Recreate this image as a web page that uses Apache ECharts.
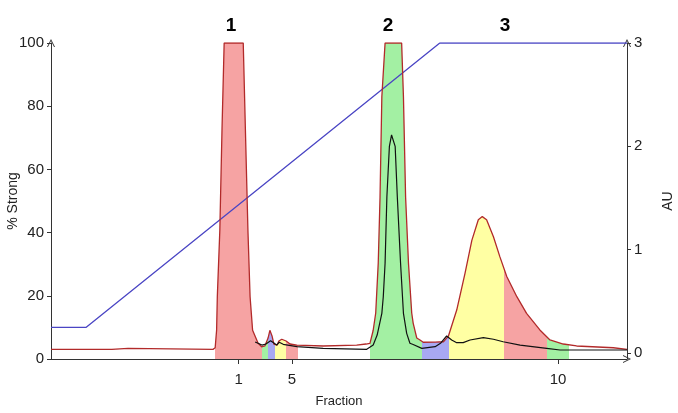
<!DOCTYPE html>
<html>
<head>
<meta charset="utf-8">
<script src="https://cdn.jsdelivr.net/npm/echarts@6/dist/echarts.min.js"></script>
<style>
  html, body { margin: 0; padding: 0; background: #fff; }
  #chart { width: 678px; height: 413px; }
</style>
</head>
<body>
<div id="chart"></div>
<script>
// ---- data (x in mL-like volume units, AU for absorbance, % for gradient) ----
const uvX = [0, 0.25, 0.28, 0.31, 1.69, 1.72, 2.14, 2.17, 4.5, 4.56, 4.6, 4.62, 4.69, 4.75, 4.81, 5.34, 5.40, 5.47, 5.53, 5.60, 5.75, 5.85, 5.94, 6.03, 6.08, 6.14, 6.19, 6.28, 6.33, 6.41, 6.53, 6.64, 6.83, 7.56, 8.49, 8.75, 8.86, 8.95, 9.02, 9.09, 9.14, 9.19, 9.28, 9.74, 9.79, 9.85, 9.93, 10.02, 10.06, 10.16, 10.25, 10.34, 10.67, 10.9, 11.04, 11.27, 11.5, 11.69, 11.87, 11.98, 12.1, 12.29, 12.47, 12.66, 12.94, 13.21, 13.58, 13.86, 14.23, 14.6, 15.62, 16];
const uvAU = [0.035, 0.035, 0.05, 0.035, 0.035, 0.045, 0.045, 0.035, 0.035, 0.05, 0.22, 0.545, 1.19, 2.16, 3.0, 3.0, 2.16, 1.19, 0.545, 0.22, 0.097, 0.06, 0.068, 0.145, 0.22, 0.165, 0.087, 0.077, 0.116, 0.133, 0.116, 0.087, 0.077, 0.068, 0.077, 0.087, 0.094, 0.22, 0.387, 0.87, 1.51, 2.48, 3.0, 3.0, 2.48, 1.51, 0.87, 0.387, 0.29, 0.145, 0.126, 0.104, 0.106, 0.109, 0.165, 0.416, 0.77, 1.09, 1.29, 1.32, 1.29, 1.125, 0.93, 0.74, 0.545, 0.384, 0.223, 0.126, 0.087, 0.068, 0.051, 0.036];

const sigX = [5.67, 5.86, 5.97, 6.1, 6.27, 6.34, 6.45, 6.83, 7.56, 8.77, 8.95, 9.06, 9.19, 9.23, 9.28, 9.33, 9.4, 9.46, 9.56, 9.62, 9.71, 9.79, 9.88, 9.97, 10.06, 10.3, 10.67, 10.83, 10.99, 11.03, 11.13, 11.27, 11.45, 11.64, 12.01, 12.29, 12.56, 13.03, 13.77, 14.14, 15.71, 16];
const sigAU = [0.106, 0.077, 0.087, 0.119, 0.077, 0.104, 0.084, 0.061, 0.045, 0.036, 0.077, 0.174, 0.384, 0.545, 0.868, 1.51, 2.0, 2.11, 2.0, 1.51, 0.868, 0.384, 0.19, 0.094, 0.082, 0.045, 0.061, 0.097, 0.165, 0.174, 0.126, 0.1, 0.1, 0.126, 0.148, 0.133, 0.109, 0.077, 0.045, 0.029, 0.029, 0.029];

const gradX = [0, 0.97, 10.8, 16];
const gradPct = [10, 10, 100, 100];

const fracStart = [4.56, 5.86, 6.03, 6.22, 6.53, 8.86, 10.31, 11.06, 12.58, 13.78];
const fracEnd   = [5.86, 6.03, 6.22, 6.53, 6.85, 10.31, 11.06, 12.58, 13.78, 14.39];
const fracColors = ['#f6a3a3', '#a3f0a3', '#a8a8f2', '#ffffa3'];
const fracLabelNums = [1, 5, 10];

const peakNames = ['1', '2', '3'];
const peakNameX = [5.0, 9.36, 12.61];

const rightTicks = [0, 1, 2, 3];

// ---- derived ----
const uvData = uvX.map((x, i) => [x, uvAU[i]]);
const sigData = sigX.map((x, i) => [x, sigAU[i]]);
const gradData = gradX.map((x, i) => [x, gradPct[i]]);
const fracCenters = fracLabelNums.map(n => (fracStart[n - 1] + fracEnd[n - 1]) / 2);
const pieces = fracStart.map((s, i) => ({ gte: s, lt: fracEnd[i], color: fracColors[i % 4] }));

const arrow = 'path://M0,10 L5,0 L10,10 L8.8,10 L5,2.4 L1.2,10 Z';
const FONT = 'Liberation Sans, Arial, sans-serif';

const chart = echarts.init(document.getElementById('chart'), null, { renderer: 'canvas' });
chart.setOption({
  animation: false,
  backgroundColor: '#ffffff',
  grid: { left: 51, right: 51, top: 43, bottom: 54, containLabel: false, outerBoundsMode: 'none' },
  xAxis: {
    type: 'value', min: 0, max: 16,
    name: 'Fraction', nameLocation: 'middle', nameGap: 36,
    nameTextStyle: { fontFamily: FONT, fontSize: 13, color: '#222' },
    axisLine: { show: true, symbol: ['none', arrow], symbolSize: [8, 10], lineStyle: { color: '#333', width: 1 } },
    axisTick: { show: true, length: 5, customValues: fracCenters, lineStyle: { color: '#333' } },
    axisLabel: {
      customValues: fracCenters, margin: 13,
      fontFamily: FONT, fontSize: 15, color: '#222',
      formatter: function (v) {
        let best = 0;
        fracCenters.forEach((c, i) => { if (Math.abs(c - v) < Math.abs(fracCenters[best] - v)) best = i; });
        return String(fracLabelNums[best]);
      }
    },
    splitLine: { show: false }
  },
  yAxis: [
    {
      type: 'value', min: 0, max: 100, interval: 20, position: 'left',
      name: '% Strong', nameLocation: 'middle', nameGap: 31, nameMoveOverlap: false,
      nameTextStyle: { fontFamily: FONT, fontSize: 14, color: '#222' },
      axisLine: { show: true, symbol: ['none', arrow], symbolSize: [8, 10], lineStyle: { color: '#333', width: 1 } },
      axisTick: { show: true, length: 4, lineStyle: { color: '#333' } },
      axisLabel: { margin: 7, fontFamily: FONT, fontSize: 15, color: '#222' },
      splitLine: { show: false }
    },
    {
      type: 'value', min: -0.058, max: 3, position: 'right',
      name: 'AU', nameLocation: 'middle', nameGap: 34, nameMoveOverlap: false,
      nameTextStyle: { fontFamily: FONT, fontSize: 14, color: '#222' },
      axisLine: { show: true, symbol: ['none', arrow], symbolSize: [8, 10], lineStyle: { color: '#333', width: 1 } },
      axisTick: { show: true, length: 4, customValues: rightTicks, lineStyle: { color: '#333' } },
      axisLabel: { customValues: rightTicks, margin: 7, fontFamily: FONT, fontSize: 15, color: '#222' },
      splitLine: { show: false }
    }
  ],
  visualMap: {
    type: 'piecewise', show: false, dimension: 0, seriesIndex: 0,
    pieces: pieces,
    outOfRange: { color: 'rgba(255,255,255,0)' }
  },
  series: [
    {
      name: 'fractions', type: 'line', yAxisIndex: 1, data: uvData,
      showSymbol: false, silent: true,
      lineStyle: { width: 0, opacity: 0 },
      areaStyle: { opacity: 1, origin: 'start' },
      z: 1
    },
    {
      name: 'gradient', type: 'line', yAxisIndex: 0, data: gradData,
      showSymbol: false, lineStyle: { color: '#4a45c4', width: 1.3 }, z: 3
    },
    {
      name: 'UV', type: 'line', yAxisIndex: 1, data: uvData,
      showSymbol: false, lineStyle: { color: '#b22a2a', width: 1.3 }, z: 4
    },
    {
      name: 'signal', type: 'line', yAxisIndex: 1, data: sigData,
      showSymbol: false, lineStyle: { color: '#111', width: 1.2 }, z: 5
    }
  ]
});

// peak names above the plot, positioned from their x values
const elems = peakNames.map((t, i) => {
  const px = chart.convertToPixel({ xAxisIndex: 0 }, peakNameX[i]);
  return {
    type: 'text', x: px, y: 26,
    style: { text: t, font: 'bold 19px ' + FONT, fill: '#000', align: 'center', verticalAlign: 'middle' }
  };
});
chart.setOption({ graphic: elems });
</script>
</body>
</html>
